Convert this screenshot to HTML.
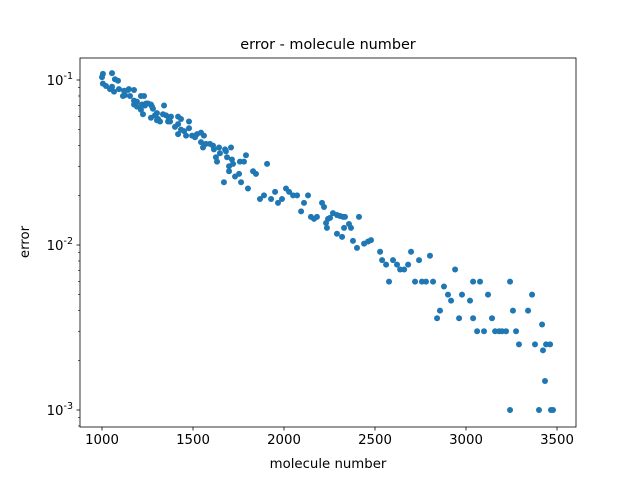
<!DOCTYPE html>
<html><head><meta charset="utf-8"><style>
body{margin:0;background:#fff}
svg{display:block;font-family:"DejaVu Sans","Liberation Sans",sans-serif}
</style></head><body>
<svg id="chart" width="640" height="480">
<rect width="640" height="480" fill="#fff"/>
<text x="328" y="49" font-size="14.4" text-anchor="middle">error - molecule number</text>
<g id="pts"></g>
<g id="axes"></g>
<text x="328" y="468" font-size="13.3" text-anchor="middle">molecule number</text>
<text x="29" y="242" font-size="13.3" text-anchor="middle" transform="rotate(-90 29 242)">error</text>
</svg>
<script>
const molecules=[1005,1000,1055,1071,1088,1005,1022,1044,1055,1066,1093,1121,1115,1148,1143,1176,1126,1154,1176,1192,1214,1231,1176,1220,1192,1214,1236,1253,1269,1225,1242,1275,1280,1302,1341,1335,1291,1308,1269,1302,1319,1363,1352,1368,1379,1374,1418,1434,1478,1418,1401,1418,1434,1451,1462,1478,1495,1511,1522,1544,1560,1544,1571,1593,1555,1610,1643,1648,1615,
1670,1731,1764,1753,1802,1907,1868,1890,1929,1951,1967,1989,2011,2028,2050,2072,2094,2110,2132,2148,2209,2220,2242,2181,2165,2253,2269,2291,2308,2324,2335,2330,2231,2236,2291,2319,2368,2357,2412,2379,2401,2462,2478,2440,
1676,1709,1714,1720,1698,1698,1758,1780,1791,1830,1846,1681,1626,1632,1687,
2528,2539,2561,2577,2599,2621,2638,2660,2682,2698,2720,2742,2758,2780,2802,2819,2879,2857,2841,2901,2918,2940,2962,2978,3022,3039,3039,3061,3077,3099,3121,3143,3160,3182,3198,3220,3242,3258,3275,3242,3291,3341,3363,3401,3379,3418,3423,3440,3462,3434,3467,3478];
const errors=[0.109,0.104,0.110,0.101,0.099,0.095,0.092,0.088,0.091,0.085,0.088,0.086,0.080,0.088,0.087,0.087,0.081,0.080,0.075,0.074,0.080,0.080,0.071,0.071,0.069,0.066,0.070,0.072,0.071,0.062,0.072,0.069,0.067,0.063,0.070,0.062,0.061,0.058,0.059,0.057,0.056,0.056,0.061,0.058,0.060,0.056,0.060,0.058,0.056,0.054,0.052,0.047,0.050,0.049,0.046,0.051,0.046,0.045,0.047,0.048,0.046,0.042,0.041,0.041,0.039,0.040,0.039,0.036,0.038,
0.024,0.026,0.024,0.027,0.022,0.031,0.019,0.020,0.019,0.021,0.018,0.019,0.022,0.021,0.020,0.020,0.016,0.018,0.020,0.0148,0.018,0.017,0.0144,0.0148,0.0144,0.0146,0.0156,0.0152,0.015,0.0148,0.0148,0.0127,0.0136,0.0127,0.0117,0.0112,0.0127,0.0134,0.0148,0.0106,0.0096,0.0105,0.0107,0.0102,
0.038,0.039,0.033,0.031,0.030,0.028,0.032,0.032,0.035,0.028,0.027,0.037,0.034,0.032,0.034,
0.0091,0.0081,0.0076,0.0060,0.0081,0.0076,0.0071,0.0071,0.0076,0.0091,0.0060,0.0081,0.0060,0.0060,0.0086,0.0060,0.0056,0.0040,0.0036,0.0050,0.0046,0.0071,0.0036,0.0050,0.0046,0.0060,0.0036,0.0030,0.0060,0.0030,0.0050,0.0036,0.0030,0.0030,0.0030,0.0030,0.0060,0.0040,0.0030,0.0010,0.0025,0.0040,0.0050,0.0010,0.0025,0.0033,0.0023,0.0025,0.0025,0.0015,0.0010,0.0010];
const xTicks=[1000,1500,2000,2500,3000,3500];
const yTicks=[0.1,0.01,0.001];
const yTickLabels=["-1","-2","-3"];
const NS="http://www.w3.org/2000/svg";
const L=80,R=576,T=58,B=427;
function xs(v){return 102+(v-1000)*455/2500;}
function ys(v){return 80-(Math.log10(v)+1)*165;}
const pts=document.getElementById('pts');
for(let i=0;i<molecules.length;i++){
 const c=document.createElementNS(NS,'circle');
 c.setAttribute('cx',xs(molecules[i]));c.setAttribute('cy',ys(errors[i]));
 c.setAttribute('r',3);c.setAttribute('fill','#1f77b4');
 
 
 pts.appendChild(c);
}
const ax=document.getElementById('axes');
let h='<rect x="'+L+'" y="'+T+'" width="'+(R-L)+'" height="'+(B-T)+'" fill="none" stroke="#000" stroke-width="0.8"/>';
xTicks.forEach(t=>{const x=xs(t);h+='<line x1="'+x+'" y1="'+B+'" x2="'+x+'" y2="'+(B+3.5)+'" stroke="#000" stroke-width="0.8"/><text x="'+x+'" y="'+(B+17)+'" font-size="13.3" text-anchor="middle">'+t+'</text>';});
yTicks.forEach((t,i)=>{const y=ys(t);h+='<line x1="'+(L-3.5)+'" y1="'+y+'" x2="'+L+'" y2="'+y+'" stroke="#000" stroke-width="0.8"/><text x="'+(L-7)+'" y="'+(y+5)+'" font-size="13.3" text-anchor="end">10<tspan dy="-6" font-size="9.5">'+yTickLabels[i]+'</tspan></text>';});
for(let d=-4;d<=-1;d++)for(let m=2;m<=9;m++){const v=m*Math.pow(10,d);const y=ys(v);if(y>T&&y<B)h+='<line x1="'+(L-2)+'" y1="'+y+'" x2="'+L+'" y2="'+y+'" stroke="#000" stroke-width="0.6"/>';}
ax.innerHTML=h;
</script>
</body></html>
